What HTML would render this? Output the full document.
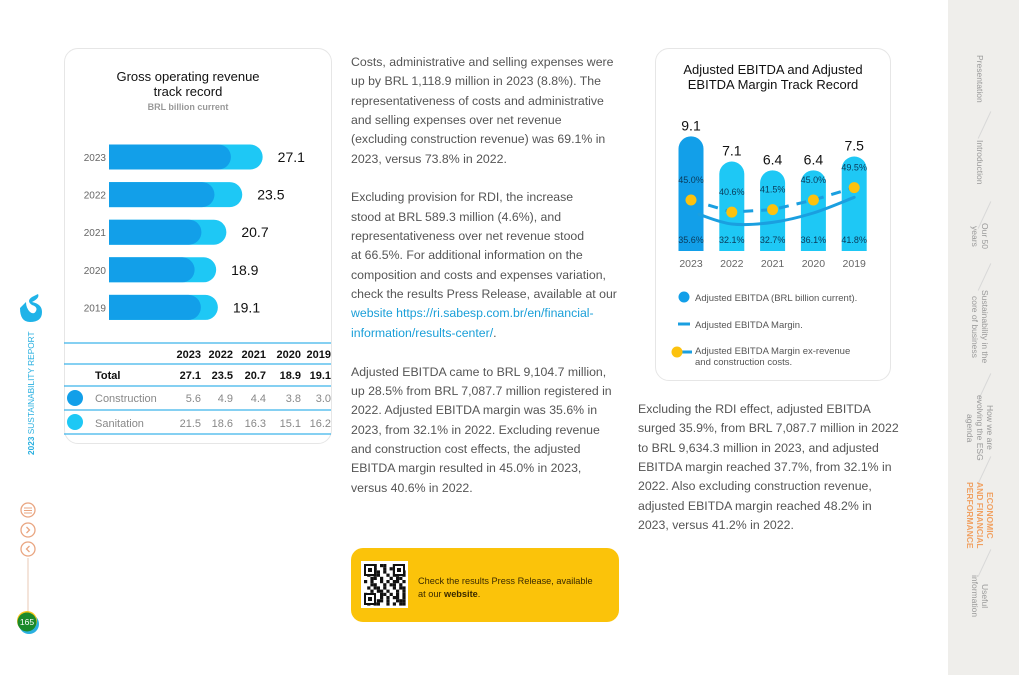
<!DOCTYPE html>
<html><head><meta charset="utf-8">
<style>
*{margin:0;padding:0;box-sizing:border-box}
body{width:1019px;height:675px;background:#fff;position:relative;overflow:hidden;font-family:"Liberation Sans",sans-serif;color:#222}
.abs{position:absolute}
.card{position:absolute;border:1.5px solid #e6e6e6;border-radius:14px;background:#fff}
.para{position:absolute;font-size:12.3px;line-height:19.35px;color:#555;white-space:nowrap}
.link{color:#1a9fd8}
.side{position:absolute;writing-mode:vertical-rl;font-size:8.5px;color:#999;line-height:10px;text-align:center}
.sep{position:absolute;width:1px;height:30px;background:#d8d8d8;transform:rotate(25deg)}
</style></head><body>

<!-- Right nav -->
<div class="abs" style="left:948px;top:0;width:71px;height:675px;background:#efeeeb"></div>
<div class="side" style="left:975px;top:55px">Presentation</div>
<div class="sep" style="left:984px;top:110px"></div>
<div class="side" style="left:975px;top:140px">Introduction</div>
<div class="sep" style="left:984px;top:200px"></div>
<div class="side" style="left:970px;top:223px">Our 50<br>years</div>
<div class="sep" style="left:984px;top:262px"></div>
<div class="side" style="left:970px;top:290px">Sustainability in the<br>core of business</div>
<div class="sep" style="left:984px;top:372px"></div>
<div class="side" style="left:965px;top:395px">How we are<br>evolving the ESG<br>agenda</div>
<div class="sep" style="left:984px;top:455px"></div>
<div class="side" style="left:965px;top:482px;color:#f0a060;font-weight:bold">ECONOMIC<br>AND FINANCIAL<br>PERFORMANCE</div>
<div class="sep" style="left:984px;top:548px"></div>
<div class="side" style="left:970px;top:575px">Useful<br>information</div>

<!-- Left rail -->
<svg class="abs" style="left:0;top:290px" width="60" height="350">
<path d="M20 18 q0 14 10 14 q12 0 12-10 q0-8-10-10 q8-4 6-8 l-6 3 q-6 4 0 8 q6 2 4 6 q-2 4-6 1 q-4-4-4-10 z" fill="#1fb3e8"/>
<text transform="translate(34,165) rotate(-90)" font-size="8.3" fill="#2ab0e0" font-family="Liberation Sans"><tspan font-weight="bold">2023</tspan> SUSTAINABILITY REPORT</text>
<line x1="28" y1="268" x2="28" y2="325" stroke="#e9c9b4"/>
<circle cx="28" cy="220" r="7" fill="#fff" stroke="#e9a580" stroke-width="1.3"/>
<line x1="24" y1="218" x2="32" y2="218" stroke="#e9a580"/><line x1="24" y1="220.5" x2="32" y2="220.5" stroke="#e9a580"/><line x1="24" y1="223" x2="32" y2="223" stroke="#e9a580"/>
<circle cx="28" cy="240" r="7" fill="#fff" stroke="#e9a580" stroke-width="1.3"/>
<path d="M26.5 237 l3 3 l-3 3" fill="none" stroke="#e9a580" stroke-width="1.3"/>
<circle cx="28" cy="259" r="7" fill="#fff" stroke="#e9a580" stroke-width="1.3"/>
<path d="M29.5 256 l-3 3 l3 3" fill="none" stroke="#e9a580" stroke-width="1.3"/>
<circle cx="29" cy="334" r="10" fill="#2ab0e0"/>
<circle cx="27" cy="331" r="10" fill="#f5c518"/>
<circle cx="27" cy="332" r="9.5" fill="#1b8a2a"/>
<text x="27" y="335" font-size="8.5" fill="#fff" text-anchor="middle" font-family="Liberation Sans">165</text>
</svg>

<!-- Gross revenue card -->
<div class="card" style="left:64px;top:48px;width:268px;height:396px"></div>
<div class="abs" style="left:88px;top:69px;width:200px;text-align:center;font-size:13px;line-height:15px;color:#111">Gross operating revenue<br>track record</div>
<div class="abs" style="left:88px;top:102px;width:200px;text-align:center;font-size:9px;color:#999;font-weight:bold">BRL billion current</div>
<svg class="abs" id="rev" style="left:0;top:0" width="340" height="450"></svg>

<!-- Text col 1 -->
<div class="para" style="left:351px;top:53px">
Costs, administrative and selling expenses were<br>up by BRL 1,118.9 million in 2023 (8.8%). The<br>representativeness of costs and administrative<br>and selling expenses over net revenue<br>(excluding construction revenue) was 69.1% in<br>2023, versus 73.8% in 2022.<br><br>
Excluding provision for RDI, the increase<br>stood at BRL 589.3 million (4.6%), and<br>representativeness over net revenue stood<br>at 66.5%. For additional information on the<br>composition and costs and expenses variation,<br>check the results Press Release, available at our<br><span class="link">website https://ri.sabesp.com.br/en/financial-<br>information/results-center/</span>.<br><br>
Adjusted EBITDA came to BRL 9,104.7 million,<br>up 28.5% from BRL 7,087.7 million registered in<br>2022. Adjusted EBITDA margin was 35.6% in<br>2023, from 32.1% in 2022. Excluding revenue<br>and construction cost effects, the adjusted<br>EBITDA margin resulted in 45.0% in 2023,<br>versus 40.6% in 2022.
</div>

<!-- Text col 2 -->
<div class="para" style="left:638px;top:400px">
Excluding the RDI effect, adjusted EBITDA<br>surged 35.9%, from BRL 7,087.7 million in 2022<br>to BRL 9,634.3 million in 2023, and adjusted<br>EBITDA margin reached 37.7%, from 32.1% in<br>2022. Also excluding construction revenue,<br>adjusted EBITDA margin reached 48.2% in<br>2023, versus 41.2% in 2022.
</div>

<!-- QR box -->
<div class="abs" style="left:351px;top:548px;width:268px;height:74px;background:#fbc30a;border-radius:12px"></div>
<svg class="abs" style="left:361px;top:561px" width="47" height="47" id="qr"></svg>
<div class="abs" style="left:418px;top:575px;font-size:9.2px;line-height:13px;color:#3a2a00">Check the results Press Release, available<br>at our <b>website</b>.</div>

<!-- EBITDA card -->
<div class="card" style="left:655px;top:48px;width:236px;height:333px"></div>
<div class="abs" style="left:660px;top:62px;width:226px;text-align:center;font-size:13px;line-height:15px;color:#111">Adjusted EBITDA and Adjusted<br>EBITDA Margin Track Record</div>
<svg class="abs" id="eb" style="left:0;top:0" width="900" height="390"></svg>

<script>
// ---------- Gross revenue data ----------
const revYears = ["2023","2022","2021","2020","2019"];
const revTotal = [27.1, 23.5, 20.7, 18.9, 19.1];
const revConstruction = [5.6, 4.9, 4.4, 3.8, 3.0];
const revSanitation = [21.5, 18.6, 16.3, 15.1, 16.2];

// ---------- EBITDA data ----------
const ebYears = ["2023","2022","2021","2020","2019"];
const ebValues = [9.1, 7.1, 6.4, 6.4, 7.5];
const ebMargin = [35.6, 32.1, 32.7, 36.1, 41.8];
const ebMarginEx = [45.0, 40.6, 41.5, 45.0, 49.5];

const NS = "http://www.w3.org/2000/svg";
function mk(parent, tag, attrs, text){
  const e = document.createElementNS(NS, tag);
  for (const k in attrs) e.setAttribute(k, attrs[k]);
  if (text !== undefined) e.textContent = text;
  parent.appendChild(e);
  return e;
}

// Revenue chart
(function(){
  const svg = document.getElementById('rev');
  const x0 = 109, k = 5.67;
  const xS = v => x0 + v * k;
  const yC = i => 157 + i * 37.6;
  const bh = 25;
  revYears.forEach((yr, i) => {
    const cy = yC(i);
    const t = mk(svg, 'text', {x: 106, y: cy + 4, 'font-size': 10, fill: '#666', 'text-anchor': 'end'}, yr);
    
    
    const total = revConstruction[i] + revSanitation[i];
    const wT = xS(total) - x0;
    const light = mk(svg, 'path', {d: `M${x0} ${cy-bh/2} h${wT-bh/2} a${bh/2} ${bh/2} 0 0 1 0 ${bh} h${-(wT-bh/2)} z`, fill: '#1ec8f5'});
    
    
    const wS = xS(revSanitation[i]) - x0;
    const dark = mk(svg, 'path', {d: `M${x0} ${cy-bh/2} h${wS-bh/2} a${bh/2} ${bh/2} 0 0 1 0 ${bh} h${-(wS-bh/2)} z`, fill: '#129fe9'});
    
    
    const v = mk(svg, 'text', {x: xS(total) + 15, y: cy + 5, 'font-size': 14, fill: '#111'}, revTotal[i].toFixed(1));
    
    
  });
  // table
  [343, 364, 386, 410, 434].forEach(y => mk(svg, 'line', {x1: 64, x2: 331, y1: y, y2: y, stroke: '#3cb4ea', 'stroke-width': 1.2}));
  const colX = [201, 233, 266, 301, 331];
  revYears.forEach((yr, i) => {
    const h = mk(svg, 'text', {x: colX[i], y: 358, 'font-size': 11, 'font-weight': 'bold', fill: '#111', 'text-anchor': 'end'}, yr);
    
    
    mk(svg, 'text', {x: colX[i], y: 379, 'font-size': 11, 'font-weight': 'bold', fill: '#111', 'text-anchor': 'end'}, revTotal[i].toFixed(1));
    mk(svg, 'text', {x: colX[i], y: 402, 'font-size': 11, fill: '#888', 'text-anchor': 'end'}, revConstruction[i].toFixed(1));
    mk(svg, 'text', {x: colX[i], y: 427, 'font-size': 11, fill: '#888', 'text-anchor': 'end'}, revSanitation[i].toFixed(1));
  });
  mk(svg, 'text', {x: 95, y: 379, 'font-size': 11, 'font-weight': 'bold', fill: '#111'}, 'Total');
  mk(svg, 'circle', {cx: 75, cy: 398, r: 8, fill: '#129fe9'});
  mk(svg, 'text', {x: 95, y: 402, 'font-size': 11, fill: '#888'}, 'Construction');
  mk(svg, 'circle', {cx: 75, cy: 422, r: 8, fill: '#1ec8f5'});
  mk(svg, 'text', {x: 95, y: 427, 'font-size': 11, fill: '#888'}, 'Sanitation');
})();

// EBITDA chart
(function(){
  const svg = document.getElementById('eb');
  const base = 251, k = 12.6, bw = 25;
  const xC = i => 691 + i * 40.8;
  const yV = v => base - v * k;
  const yEx = v => 200 - (v - 45) * 2.75;
  const yM = v => 224 - (v - 32.1) * 2.75;
  ebYears.forEach((yr, i) => {
    const cx = xC(i), top = yV(ebValues[i]);
    const b = mk(svg, 'path', {d: `M${cx-bw/2} ${base} V${top+bw/2} a${bw/2} ${bw/2} 0 0 1 ${bw} 0 V${base} z`, fill: i === 0 ? '#129fe9' : '#1ec8f5'});
    
    
    const t = mk(svg, 'text', {x: cx, y: top - 6, 'font-size': 14, fill: '#111', 'text-anchor': 'middle'}, ebValues[i].toFixed(1));
    
    
    const yl = mk(svg, 'text', {x: cx, y: 267, 'font-size': 10.5, fill: '#666', 'text-anchor': 'middle'}, yr);
    
    
  });
  // margin line (smooth)
  let d = '';
  const pts = ebMargin.map((v, i) => [xC(i) + (i === 0 ? 8 : 0), yM(v)]);
  pts.forEach((p, i) => {
    if (i === 0) { d = `M${p[0]} ${p[1]}`; return; }
    const p0 = pts[i-2] || pts[i-1], p1 = pts[i-1], p3 = pts[i+1] || p;
    const c1 = [p1[0] + (p[0]-p0[0])/6, p1[1] + (p[1]-p0[1])/6];
    const c2 = [p[0] - (p3[0]-p1[0])/6, p[1] - (p3[1]-p1[1])/6];
    d += ` C${c1[0]} ${c1[1]} ${c2[0]} ${c2[1]} ${p[0]} ${p[1]}`;
  });
  const ml = mk(svg, 'path', {d: d, fill: 'none', stroke: '#1a9fe0', 'stroke-width': 3, 'stroke-linecap': 'round'});
  
  
  // ex-revenue dashed
  let d2 = ebMarginEx.map((v, i) => (i ? 'L' : 'M') + xC(i) + ' ' + yEx(v)).join(' ');
  const el = mk(svg, 'path', {d: d2, fill: 'none', stroke: '#1a9fe0', 'stroke-width': 3, 'stroke-dasharray': '10 8'});
  
  
  ebYears.forEach((yr, i) => {
    const c = mk(svg, 'circle', {cx: xC(i), cy: yEx(ebMarginEx[i]), r: 5.5, fill: '#fcc20e'});
    
    
    mk(svg, 'text', {x: xC(i), y: yEx(ebMarginEx[i]) - 17, 'font-size': 9, fill: '#0a3a5a', 'text-anchor': 'middle'}, ebMarginEx[i].toFixed(1) + '%');
    mk(svg, 'text', {x: xC(i), y: 243, 'font-size': 9, fill: '#0a3a5a', 'text-anchor': 'middle'}, ebMargin[i].toFixed(1) + '%');
  });
  // legend
  mk(svg, 'circle', {cx: 684, cy: 297, r: 5.5, fill: '#129fe9'});
  mk(svg, 'text', {x: 695, y: 301, 'font-size': 9.5, fill: '#555'}, 'Adjusted EBITDA (BRL billion current).');
  mk(svg, 'line', {x1: 678, x2: 690, y1: 324, y2: 324, stroke: '#1a9fe0', 'stroke-width': 3});
  mk(svg, 'text', {x: 695, y: 328, 'font-size': 9.5, fill: '#555'}, 'Adjusted EBITDA Margin.');
  mk(svg, 'line', {x1: 678, x2: 692, y1: 352, y2: 352, stroke: '#1a9fe0', 'stroke-width': 3});
  mk(svg, 'circle', {cx: 677, cy: 352, r: 5.5, fill: '#fcc20e'});
  mk(svg, 'text', {x: 695, y: 354, 'font-size': 9.5, fill: '#555'}, 'Adjusted EBITDA Margin ex-revenue');
  mk(svg, 'text', {x: 695, y: 365, 'font-size': 9.5, fill: '#555'}, 'and construction costs.');
})();

// QR pattern (decorative)
(function(){
  const svg = document.getElementById('qr');
  mk(svg, 'rect', {x: 0, y: 0, width: 47, height: 47, fill: '#fff'});
  const pat = "1101011001010110100101101001011010010110101100101101001101001011010100101011010011001011010010110100101100101101001011010011010101101001010110100101101001";
  let n = 0;
  for (let r = 0; r < 13; r++) for (let c = 0; c < 13; c++) {
    if (pat[(n++) % pat.length] === '1') mk(svg, 'rect', {x: 3 + c*3.2, y: 3 + r*3.2, width: 3.2, height: 3.2, fill: '#111'});
  }
  [[3,3],[32,3],[3,32]].forEach(p => {
    mk(svg, 'rect', {x: p[0], y: p[1], width: 12, height: 12, fill: '#fff'});
    mk(svg, 'rect', {x: p[0]+1, y: p[1]+1, width: 10, height: 10, fill: 'none', stroke: '#111', 'stroke-width': 2});
    mk(svg, 'rect', {x: p[0]+4, y: p[1]+4, width: 4, height: 4, fill: '#111'});
  });
})();
</script>
</body></html>
